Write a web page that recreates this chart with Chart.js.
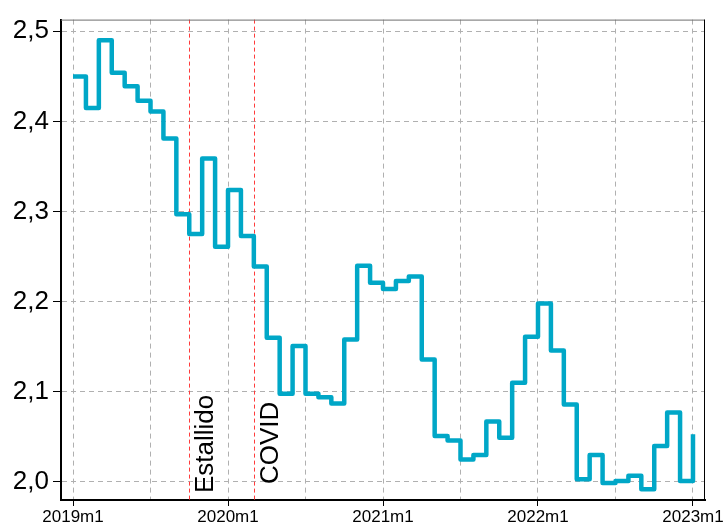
<!DOCTYPE html>
<html>
<head>
<meta charset="utf-8">
<script src="https://cdn.jsdelivr.net/npm/chart.js@4/dist/chart.umd.min.js"></script>
<style>
  html, body { margin: 0; padding: 0; background: #fff; }
  #wrap { width: 726px; height: 526px; }
</style>
</head>
<body>
<div id="wrap"><canvas id="myChart" width="726" height="526"></canvas></div>
<script>
// months since 2019m1
const months = [];
for (let i = 0; i <= 48; i++) months.push(i);

const values = [
  2.450, 2.415, 2.490, 2.454, 2.439, 2.423, 2.411, 2.381, 2.297, 2.275, 2.359, 2.261,
  2.324, 2.273, 2.239, 2.160, 2.098, 2.151, 2.098, 2.094, 2.087, 2.158, 2.240, 2.221,
  2.214, 2.223, 2.228, 2.136, 2.051, 2.046, 2.025, 2.030, 2.067, 2.049, 2.110, 2.161,
  2.198, 2.146, 2.086, 2.003, 2.030, 1.999, 2.001, 2.007, 1.992, 2.040, 2.077, 2.001,
  2.053
];

const xTicks = [0, 6, 12, 18, 24, 30, 36, 42, 48];
const xTickLabels = { 0: '2019m1', 12: '2020m1', 24: '2021m1', 36: '2022m1', 48: '2023m1' };
const yTicks = [2.0, 2.1, 2.2, 2.3, 2.4, 2.5];

const eventMonths = [9, 14];
const eventLabels = ['Estallido', 'COVID'];
const eventLabelLift = [7, 16];

const FONT = "'Liberation Sans', Arial, sans-serif";

const eventLines = {
  id: 'eventLines',
  beforeDatasetsDraw(chart) {
    const { ctx, chartArea, scales } = chart;
    eventMonths.forEach((m, i) => {
      const x = Math.round(scales.x.getPixelForValue(m)) + 0.5;
      ctx.save();
      ctx.strokeStyle = '#ff3b3b';
      ctx.lineWidth = 1;
      ctx.setLineDash([4, 3]);
      ctx.beginPath();
      ctx.moveTo(x, chartArea.top);
      ctx.lineTo(x, chartArea.bottom);
      ctx.stroke();
      ctx.restore();

      // label reads bottom to top, right of the line
      ctx.save();
      ctx.translate(x + 23, chartArea.bottom - eventLabelLift[i]);
      ctx.rotate(-Math.PI / 2);
      ctx.fillStyle = '#000';
      ctx.font = '26px ' + FONT;
      ctx.textAlign = 'left';
      ctx.textBaseline = 'alphabetic';
      ctx.fillText(eventLabels[i], 0, 0);
      ctx.restore();
    });
  },
  afterDraw(chart) {
    const { ctx, chartArea } = chart;
    ctx.save();
    ctx.lineWidth = 1;
    ctx.strokeStyle = '#6e6e6e';
    ctx.beginPath();
    ctx.moveTo(chartArea.left, chartArea.top + 0.5);
    ctx.lineTo(chartArea.right, chartArea.top + 0.5);
    ctx.stroke();
    ctx.strokeStyle = '#000';
    ctx.beginPath();
    ctx.moveTo(chartArea.right - 0.5, chartArea.top);
    ctx.lineTo(chartArea.right - 0.5, chartArea.bottom);
    ctx.stroke();
    ctx.restore();
  }
};

const ctx = document.getElementById('myChart').getContext('2d');
new Chart(ctx, {
  type: 'line',
  data: {
    datasets: [{
      data: months.map((m, i) => ({ x: m, y: values[i] })),
      borderColor: '#00a7c7',
      borderWidth: 4.5,
      pointRadius: 0,
      stepped: true,
      fill: false,
      borderJoinStyle: 'round',
      borderCapStyle: 'butt'
    }]
  },
  options: {
    responsive: false,
    animation: false,
    layout: { padding: { top: 15, right: 21, left: 0, bottom: 0 } },
    plugins: { legend: { display: false }, tooltip: { enabled: false } },
    scales: {
      x: {
        type: 'linear',
        min: -0.93,
        max: 48.93,
        afterBuildTicks: s => { s.ticks = xTicks.map(v => ({ value: v })); },
        afterFit: s => { s.height = 26; },
        ticks: {
          autoSkip: false,
          maxRotation: 0,
          padding: 1,
          color: '#000',
          font: { family: FONT, size: 17 },
          callback: v => xTickLabels[v] || ''
        },
        grid: {
          color: '#b0b0b0',
          lineWidth: 1,
          tickLength: 6,
          tickWidth: 1,
          tickColor: c => (c.tick && c.tick.value % 12 === 0) ? '#000' : 'rgba(0,0,0,0)'
        },
        border: { display: true, color: '#000', width: 2, dash: [5, 4] }
      },
      y: {
        min: 1.98,
        max: 2.513,
        afterBuildTicks: s => { s.ticks = yTicks.map(v => ({ value: v })); },
        afterFit: s => { s.width = 61; },
        ticks: {
          padding: 4,
          color: '#000',
          font: { family: FONT, size: 26 },
          callback: v => v.toFixed(1).replace('.', ',')
        },
        grid: {
          color: '#b0b0b0',
          lineWidth: 1,
          tickLength: 8,
          tickWidth: 1,
          tickColor: '#000'
        },
        border: { display: true, color: '#000', width: 2, dash: [5, 4] }
      }
    }
  },
  plugins: [eventLines]
});
</script>
</body>
</html>
